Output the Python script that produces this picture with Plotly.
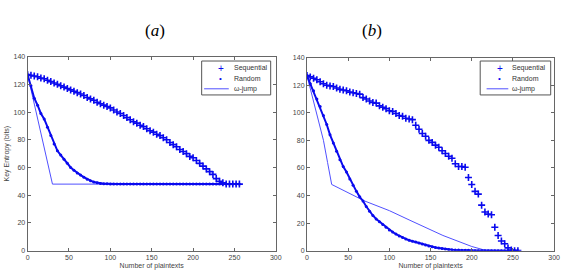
import plotly.graph_objects as go

# ---------------- data ----------------
x_pts = list(range(0, 257, 4))

seq_a = [127, 126.5, 126, 125.5, 124.5, 124, 123, 122, 121, 120, 119, 118, 117, 116, 115, 114,
         113, 112, 110.5, 109.5, 108.5, 107, 106, 105, 104, 103, 101.5, 100, 99, 97.5, 96, 94.5,
         93, 92, 90.5, 89.5, 88, 86.5, 85.5, 84, 83, 81.5, 80, 78, 76.5, 75, 73, 71.5,
         70, 68, 67, 65, 63, 61, 59, 57, 55, 52, 50, 49, 48, 48, 48, 48, 48]
rnd_a = [127, 119, 110, 105, 99, 95, 89, 83, 77, 72, 69, 66, 63, 60, 58, 56,
         54.5, 53, 51.5, 50.5, 49.5, 49, 48.5, 48.3, 48.2] + [48] * 40
jump_a_x = [0, 30, 256]
jump_a_y = [127, 48, 48]

seq_b = [127, 126, 125, 124, 122.5, 121, 120, 119.5, 119, 118, 117, 116.5, 116, 115, 114.5, 114,
         113.5, 111, 110, 108.5, 107.5, 107, 105, 104, 103, 101.5, 101, 99.5, 98, 97.5, 96, 95.5,
         95, 91, 88, 85, 83, 80, 78.5, 76.5, 75, 72.5, 70.5, 68.5, 67, 63, 61, 61,
         60.5, 53, 48, 43, 41, 33, 28, 26.5, 26, 17, 11, 7, 5, 2, 0.5, 0, 0]
rnd_b = [127, 121, 116, 110, 104.5, 98, 91.5, 84, 78, 72, 66, 61, 57, 52, 47.5, 43,
         39, 36, 32, 28.5, 25.5, 23, 21, 19, 17, 15, 13.5, 12, 10.7, 9.5, 8.5, 7.5,
         6.8, 6.2, 5.5, 4.8, 4, 3.4, 2.8, 2.3, 1.9, 1.5, 1.2, 0.9, 0.7, 0.5, 0.4, 0.3,
         0.2, 0.2, 0.1] + [0] * 14
jump_b_x = [0, 10, 20, 25, 30, 70, 100, 125, 165, 200, 215, 256]
jump_b_y = [127, 103, 80, 64, 48, 36, 29, 22, 11, 3, 0.5, 0]

x_ticks = [0, 50, 100, 150, 200, 250, 300]
y_ticks = [0, 20, 40, 60, 80, 100, 120, 140]
legend_names = ["Sequential", "Random", "ω-jump"]

# ---------------- styling ----------------
BLUE = "#0a0aee"
LINE_BLUE = "#5050ff"
FONT = "Liberation Sans"
TXT = "#444444"
W, H = 570, 278


def px(v):
    return v / W


def py(v):
    return 1 - v / H


fig = go.Figure()

panels = [
    ("x", "y", seq_a, rnd_a, jump_a_x, jump_a_y),
    ("x2", "y2", seq_b, rnd_b, jump_b_x, jump_b_y),
]
for xa, ya, seq, rnd, jx, jy in panels:
    fig.add_trace(go.Scatter(
        x=jx, y=jy, mode="lines", name=legend_names[2], xaxis=xa, yaxis=ya, showlegend=False,
        line=dict(color=LINE_BLUE, width=1),
    ))
    fig.add_trace(go.Scatter(
        x=x_pts, y=rnd, mode="lines+markers", name=legend_names[1], xaxis=xa, yaxis=ya,
        showlegend=False, line=dict(color=BLUE, width=2),
        marker=dict(symbol="circle", size=3, color=BLUE, line=dict(width=0)),
    ))
    fig.add_trace(go.Scatter(
        x=x_pts, y=seq, mode="markers", name=legend_names[0], xaxis=xa, yaxis=ya,
        showlegend=False,
        marker=dict(symbol="cross-thin", size=5, color=BLUE, line=dict(color=BLUE, width=1.6)),
    ))

axis_common = dict(
    range=[0, 300], tickvals=x_ticks, showgrid=False, zeroline=False,
    showline=True, linecolor="#666666", linewidth=1, mirror="ticks",
    ticks="inside", ticklen=3, tickcolor="#666666",
    tickfont=dict(family=FONT, size=7, color=TXT),
)
yaxis_common = dict(axis_common)
yaxis_common.update(range=[0, 140], tickvals=y_ticks)
title_font = dict(family=FONT, size=7, color=TXT)

# ----- manual legends (MATLAB-style compact boxes) -----
shapes = []
annotations = []
legend_boxes = [
    # box x0, x1, y0, y1, symbol x, line x0, line x1, text x, entry ys
    (202.5, 272.5, 58.5, 93.3, 221.7, 205, 230, 233.5, [65.8, 76, 87]),
    (485, 556.5, 58.5, 93.3, 505, 491.5, 513.5, 515.5, [65.8, 76, 87]),
]
for bx0, bx1, by0, by1, sx, lx0, lx1, tx, ys in legend_boxes:
    shapes.append(dict(type="rect", xref="paper", yref="paper",
                       x0=px(bx0), x1=px(bx1), y0=py(by1), y1=py(by0),
                       line=dict(color="#555555", width=1), fillcolor="white", layer="above"))
    shapes.append(dict(type="line", xref="paper", yref="paper",
                       x0=px(lx0), x1=px(lx1), y0=py(ys[2]), y1=py(ys[2]),
                       line=dict(color=LINE_BLUE, width=1), layer="above"))
    annotations.append(dict(text="+", x=px(sx), y=py(ys[0]), xref="paper", yref="paper",
                            showarrow=False, xanchor="center", yanchor="middle",
                            font=dict(family=FONT, size=10, color=BLUE)))
    annotations.append(dict(text="•", x=px(sx), y=py(ys[1]), xref="paper", yref="paper",
                            showarrow=False, xanchor="center", yanchor="middle",
                            font=dict(family=FONT, size=8, color=BLUE)))
    for name, yy in zip(legend_names, ys):
        annotations.append(dict(text=name, x=px(tx), y=py(yy), xref="paper", yref="paper",
                                showarrow=False, xanchor="left", yanchor="middle",
                                font=dict(family=FONT, size=7, color="#333333")))

annotations += [
    dict(text="(<i>a</i>)", x=px(143), y=py(15), xref="paper", yref="paper",
         showarrow=False, font=dict(family="Liberation Serif", size=17, color="black")),
    dict(text="(<i>b</i>)", x=px(387), y=py(15), xref="paper", yref="paper",
         showarrow=False, font=dict(family="Liberation Serif", size=17, color="black")),
]

fig.update_layout(
    width=W, height=H,
    margin=dict(l=0, r=0, t=0, b=0),
    paper_bgcolor="white", plot_bgcolor="white",
    showlegend=False,
    xaxis=dict(axis_common, domain=[px(26), px(277.7)], anchor="y",
               title=dict(text="Number of plaintexts", font=title_font, standoff=3)),
    yaxis=dict(yaxis_common, domain=[py(253), py(54)], anchor="x",
               title=dict(text="Key Entropy (bits)", font=title_font, standoff=3)),
    xaxis2=dict(axis_common, domain=[px(309.3), px(560)], anchor="y2",
                title=dict(text="Number of plaintexts", font=title_font, standoff=3)),
    yaxis2=dict(yaxis_common, domain=[py(253), py(55)], anchor="x2"),
    shapes=shapes,
    annotations=annotations,
)

fig.write_html("out.html")
